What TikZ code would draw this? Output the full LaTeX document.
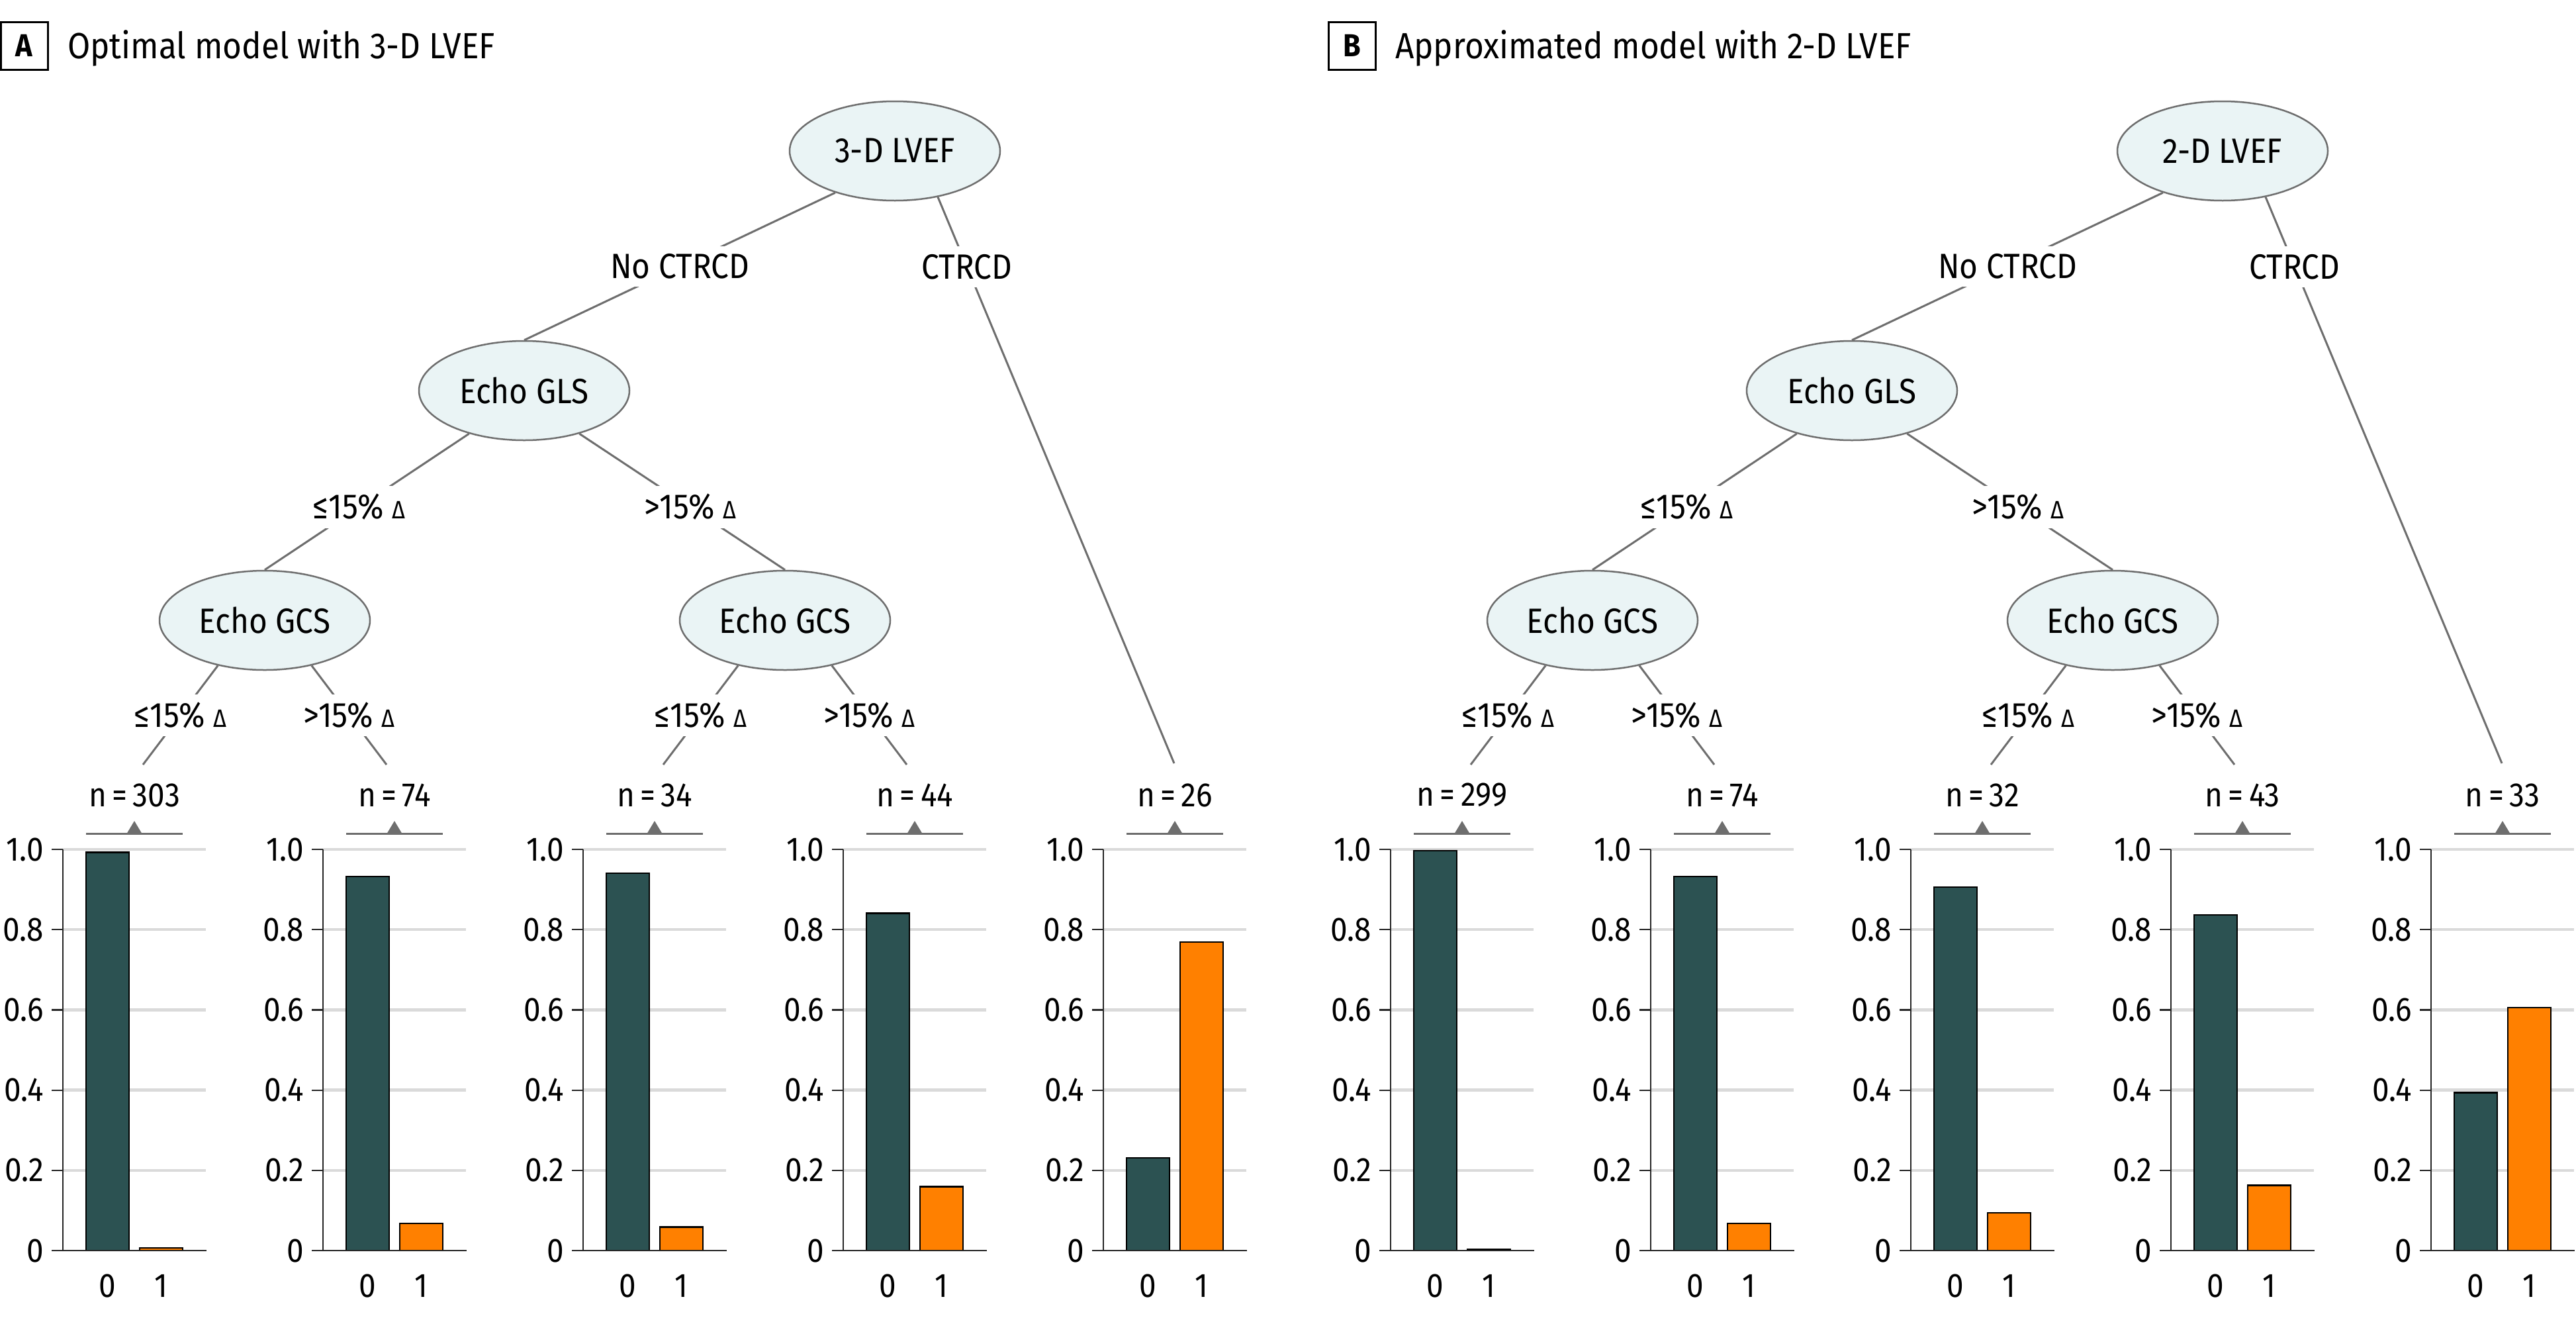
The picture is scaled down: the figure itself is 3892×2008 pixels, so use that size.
\documentclass[tikz,border=0pt]{standalone}
\usepackage{fontspec}
\setmainfont{Fira Sans}[FakeStretch=0.9]
\usetikzlibrary{shapes.geometric}
\definecolor{edgegray}{HTML}{6E6E6E}
\definecolor{nodefill}{HTML}{EAF4F5}
\definecolor{bardark}{HTML}{2C5252}
\definecolor{barorange}{HTML}{FF8000}
\definecolor{gridgray}{HTML}{DADADA}
\newcommand{\fsz}[1]{\fontsize{#1}{#1}\selectfont}
\newcommand{\dlt}{{\fsz{38}Δ}}
\tikzset{
  splitnode/.style={ellipse, draw=edgegray, line width=2.5, fill=nodefill,
    minimum width=318, minimum height=150, inner sep=0, font=\fsz{53}},
  edge/.style={draw=edgegray, line width=3},
  elabel/.style={fill=white, inner xsep=6, inner ysep=12, font=\fsz{53}},
  gridline/.style={draw=gridgray, line width=4.5},
  axisline/.style={draw=black!85, line width=2.2},
  ticklabel/.style={inner sep=0, font=\fsz{51}},
  nlabel/.style={inner sep=0, font=\fsz{51}},
  barzero/.style={fill=bardark, draw=black, line width=2.5},
  barone/.style={fill=barorange, draw=black, line width=2.5},
  panelbox/.style={draw=black, line width=3, minimum width=71, minimum height=72,
    inner sep=0, font=\fsz{48}\bfseries},
  paneltitle/.style={anchor=base west, inner sep=0, font=\fsz{55}}
}
% chart: #1 name, #2 x offset, #3 n, #4 share of 0, #5 share of 1
\newcommand{\drawchart}[5]{%
  \begin{scope}[shift={(#2,0)}]
    \foreach \yy in {1283,1404.2,1525.4,1646.6,1767.8}
      \draw[gridline] (0,\yy) -- (216,\yy);
    \draw[barzero] (35,1889) rectangle (100,{1889-606*#4});
    \draw[barone] (116,1889) rectangle (181,{1889-606*#5});
    \draw[axisline] (0,1283) -- (0,1889);
    \draw[axisline] (-17,1889) -- (217,1889);
    \foreach \yy/\tl [count=\i] in {1283/1.0,1404.2/0.8,1525.4/0.6,1646.6/0.4,1767.8/0.2,1889/0} {
      \draw[axisline] (-17,\yy) -- (0,\yy);
      \node[ticklabel, anchor=east] (#1t\i) at (-29,\yy) {\tl};
    }
    \node[ticklabel] (#1xa) at (67.5,1942) {0};
    \node[ticklabel] (#1xb) at (148.5,1942) {1};
    \node[nlabel] (#1n) at (108,1201) {n\,=\,#3};
    \draw[edgegray, line width=3] (35,1259) -- (181,1259);
    \fill[edgegray] (96,1260) -- (108,1240) -- (120,1260) -- cycle;
  \end{scope}
}
% tree: #1 name, #2 x offset, #3 root text
\newcommand{\drawtree}[3]{%
  \begin{scope}[shift={(#2,0)}]
    \node[splitnode] (#1root) at (1352,228) {#3};
    \node[splitnode] (#1gls) at (792,590) {Echo GLS};
    \node[splitnode] (#1gcsL) at (400,937) {Echo GCS};
    \node[splitnode] (#1gcsR) at (1186,937) {Echo GCS};
    \coordinate (#1e1) at (216,1155);
    \coordinate (#1e2) at (584,1155);
    \coordinate (#1e3) at (1002,1155);
    \coordinate (#1e4) at (1370,1155);
    \coordinate (#1e5) at (1774,1153);
    \draw[edge] (#1root.215) -- node[elabel, pos=0.5] (#1lno) {No CTRCD} (#1gls.north);
    \draw[edge] (#1root.313) -- node[elabel, pos=0.123] (#1lct) {CTRCD} (#1e5);
    \draw[edge] (#1gls.218) -- node[elabel, pos=0.539] (#1lga) {≤15\% \dlt} (#1gcsL.north);
    \draw[edge] (#1gls.322) -- node[elabel, pos=0.539] (#1lgb) {>15\% \dlt} (#1gcsR.north);
    \draw[edge] (#1gcsL.224) -- node[elabel, pos=0.5] (#1lla) {≤15\% \dlt} (#1e1);
    \draw[edge] (#1gcsL.316) -- node[elabel, pos=0.5] (#1llb) {>15\% \dlt} (#1e2);
    \draw[edge] (#1gcsR.224) -- node[elabel, pos=0.5] (#1lra) {≤15\% \dlt} (#1e3);
    \draw[edge] (#1gcsR.316) -- node[elabel, pos=0.5] (#1lrb) {>15\% \dlt} (#1e4);
  \end{scope}
}
\begin{document}
\begin{tikzpicture}[x=1pt, y=-1pt]
  \useasboundingbox (0,0) rectangle (3892,2008);
  % Panel A
  \node[panelbox] (Abox) at (36.5,69) {A};
  \node[paneltitle] (Atitle) at (102,88) {Optimal model with 3-D LVEF};
  \drawtree{A}{0}{3-D LVEF}
  \drawchart{Aa}{95}{303}{0.993}{0.007}
  \drawchart{Ab}{488}{74}{0.932}{0.068}
  \drawchart{Ac}{881}{34}{0.941}{0.059}
  \drawchart{Ad}{1274}{44}{0.841}{0.159}
  \drawchart{Ae}{1667}{26}{0.231}{0.769}
  % Panel B
  \node[panelbox] (Bbox) at (2042.5,69) {B};
  \node[paneltitle] (Btitle) at (2108,88) {Approximated model with 2-D LVEF};
  \drawtree{B}{2006}{2-D LVEF}
  \drawchart{Ba}{2101}{299}{0.997}{0.003}
  \drawchart{Bb}{2494}{74}{0.932}{0.068}
  \drawchart{Bc}{2887}{32}{0.906}{0.094}
  \drawchart{Bd}{3280}{43}{0.837}{0.163}
  \drawchart{Be}{3673}{33}{0.394}{0.606}
\end{tikzpicture}
\end{document}
